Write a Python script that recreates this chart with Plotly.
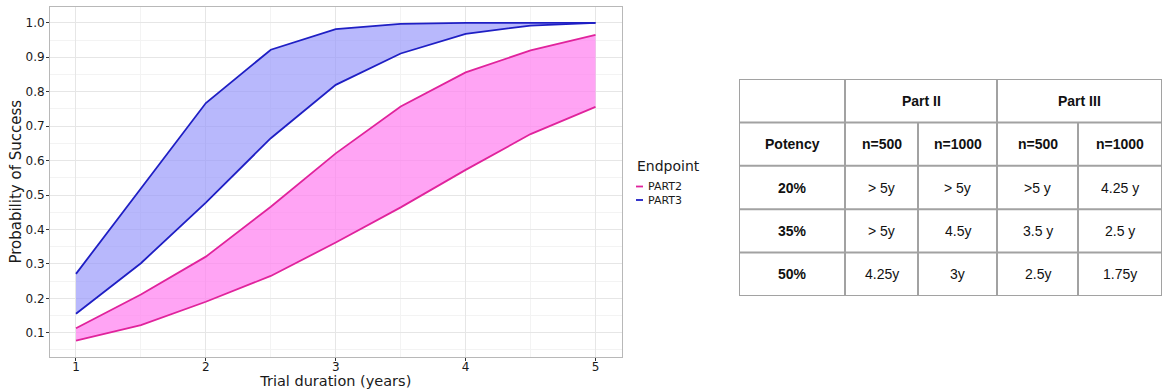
import plotly.graph_objects as go

# ---------------- data ----------------
duration = [1, 1.5, 2, 2.5, 3, 3.5, 4, 4.5, 5]
part2_low = [0.077, 0.122, 0.19, 0.265, 0.362, 0.464, 0.573, 0.677, 0.756]
part2_high = [0.113, 0.211, 0.321, 0.466, 0.621, 0.757, 0.856, 0.920, 0.965]
part3_low = [0.155, 0.302, 0.478, 0.665, 0.820, 0.911, 0.968, 0.992, 1.0]
part3_high = [0.271, 0.520, 0.767, 0.922, 0.982, 0.997, 1.0, 1.0, 1.0]

series_names = ["PART2", "PART3"]
legend_title = "Endpoint"

table_group_header = ["", "Part II", "Part III"]
table_sub_header = ["Potency", "n=500", "n=1000", "n=500", "n=1000"]
potency = ["20%", "35%", "50%"]
table_rows = [
    ["> 5y", "> 5y", ">5 y", "4.25 y"],
    ["> 5y", "4.5y", "3.5 y", "2.5 y"],
    ["4.25y", "3y", "2.5y", "1.75y"],
]

# ---------------- styles ----------------
W, H = 1167, 389
PINK_LINE = "#e0239c"
PINK_FILL = "rgba(255,125,240,0.70)"
BLUE_LINE = "#1f1fc4"
BLUE_FILL = "rgba(150,150,250,0.68)"
TICK_FONT = dict(family="DejaVu Sans", size=12, color="#1a1a1a")

fig = go.Figure()

def band(low, high, line_col, fill_col, name):
    fig.add_trace(go.Scatter(x=duration, y=low, mode="lines", name=name,
                             line=dict(color=line_col, width=1.8),
                             showlegend=False, hoverinfo="skip"))
    fig.add_trace(go.Scatter(x=duration, y=high, mode="lines", name=name,
                             line=dict(color=line_col, width=1.8),
                             fill="tonexty", fillcolor=fill_col,
                             showlegend=False, hoverinfo="skip"))

band(part2_low, part2_high, PINK_LINE, PINK_FILL, series_names[0])
band(part3_low, part3_high, BLUE_LINE, BLUE_FILL, series_names[1])

px0, px1 = 50, 621.5
py_top, py_bot = 7, 356.5

fig.update_layout(
    width=W, height=H, margin=dict(l=0, r=0, t=0, b=0, autoexpand=False),
    paper_bgcolor="white", plot_bgcolor="white",
    showlegend=False,
    xaxis=dict(domain=[px0 / W, px1 / W], range=[0.8, 5.2], automargin=False,
               tickmode="array", tickvals=[1, 2, 3, 4, 5],
               ticks="outside", ticklen=3, tickcolor="#333333",
               ticklabelstandoff=-4,
               tickfont=TICK_FONT,
               showgrid=True, gridcolor="#e6e6e6", gridwidth=1,
               minor=dict(dtick=0.5, tick0=1, showgrid=True, gridcolor="#f3f3f3", gridwidth=1),
               showline=True, mirror=True, linecolor="#b8b8b8", linewidth=1,
               zeroline=False,
               title=dict(text="Trial duration (years)", standoff=8,
                          font=dict(family="DejaVu Sans", size=14.5, color="#1a1a1a"))),
    yaxis=dict(domain=[(H - py_bot) / H, (H - py_top) / H], range=[0.031, 1.046],
               automargin=False,
               tick0=0.1, dtick=0.1, tickformat=".1f",
               ticks="outside", ticklen=3, tickcolor="#333333",
               ticklabelstandoff=-1,
               tickfont=TICK_FONT,
               showgrid=True, gridcolor="#e6e6e6", gridwidth=1,
               minor=dict(dtick=0.05, tick0=0.05, showgrid=True, gridcolor="#f3f3f3", gridwidth=1),
               showline=True, mirror=True, linecolor="#b8b8b8", linewidth=1,
               zeroline=False,
               title=dict(text="Probability of Success", standoff=0,
                          font=dict(family="DejaVu Sans", size=15, color="#1a1a1a"))),
)

# ---------------- manual legend ----------------
annotations = []
shapes = []
annotations.append(dict(xref="paper", yref="paper", x=635 / W, y=1 - 166 / H,
                        xanchor="left", yanchor="middle", showarrow=False,
                        text=legend_title,
                        font=dict(family="DejaVu Sans", size=14, color="#1a1a1a")))
for i, (nm, col) in enumerate(zip(series_names, [PINK_LINE, BLUE_LINE])):
    yy = 186.5 + i * 13.5
    shapes.append(dict(type="line", xref="paper", yref="paper",
                       x0=636 / W, x1=643 / W, y0=1 - yy / H, y1=1 - yy / H,
                       line=dict(color=col, width=1.8)))
    annotations.append(dict(xref="paper", yref="paper", x=646 / W, y=1 - yy / H,
                            xanchor="left", yanchor="middle", showarrow=False,
                            text=nm,
                            font=dict(family="DejaVu Sans", size=11, color="#1a1a1a")))

# ---------------- table on hidden axes ----------------
tx0, tx1 = 739, 1162
ty0, ty1 = 79, 296
col_edges = [0, 106, 179, 258, 339, 423]
n_rows = 2 + len(potency)

fig.update_layout(
    xaxis2=dict(domain=[tx0 / W, tx1 / W], range=[0, col_edges[-1]], visible=False,
                fixedrange=True, anchor="y2", automargin=False),
    yaxis2=dict(domain=[1 - ty1 / H, 1 - ty0 / H], range=[n_rows, 0], visible=False,
                fixedrange=True, anchor="x2", automargin=False),
)
# invisible trace to activate axes
fig.add_trace(go.Scatter(x=[0, col_edges[-1]], y=[0, n_rows], xaxis="x2", yaxis="y2",
                         mode="markers", marker=dict(opacity=0), showlegend=False,
                         hoverinfo="skip"))

LC = "#a2a2a2"
LW = 2
def tline(x0, y0, x1, y1):
    shapes.append(dict(type="line", xref="x2", yref="y2", x0=x0, y0=y0, x1=x1, y1=y1,
                       line=dict(color=LC, width=LW)))

# outer border
tline(0, 0, col_edges[-1], 0)
tline(0, n_rows, col_edges[-1], n_rows)
tline(0, 0, 0, n_rows)
tline(col_edges[-1], 0, col_edges[-1], n_rows)
# horizontal
for r in range(1, n_rows):
    tline(0, r, col_edges[-1], r)
# vertical full
tline(col_edges[1], 0, col_edges[1], n_rows)
tline(col_edges[3], 0, col_edges[3], n_rows)
# vertical below group header
tline(col_edges[2], 1, col_edges[2], n_rows)
tline(col_edges[4], 1, col_edges[4], n_rows)

TF = dict(family="Liberation Sans", size=14, color="#111111")
def cell_text(xc, yc, txt, bold=False):
    annotations.append(dict(xref="x2", yref="y2", x=xc, y=yc, showarrow=False,
                            xanchor="center", yanchor="middle",
                            text=f"<b>{txt}</b>" if bold and txt else txt, font=TF))

# group header
cell_text((col_edges[1] + col_edges[3]) / 2, 0.5, table_group_header[1], True)
cell_text((col_edges[3] + col_edges[5]) / 2, 0.5, table_group_header[2], True)
# sub header
for c, txt in enumerate(table_sub_header):
    cell_text((col_edges[c] + col_edges[c + 1]) / 2, 1.5, txt, True)
# body
for r, (pot, row) in enumerate(zip(potency, table_rows)):
    yc = 2.5 + r
    cell_text((col_edges[0] + col_edges[1]) / 2, yc, pot, True)
    for c, txt in enumerate(row):
        cell_text((col_edges[c + 1] + col_edges[c + 2]) / 2, yc, txt)

fig.update_layout(shapes=shapes, annotations=annotations)
fig.write_html("out.html")
